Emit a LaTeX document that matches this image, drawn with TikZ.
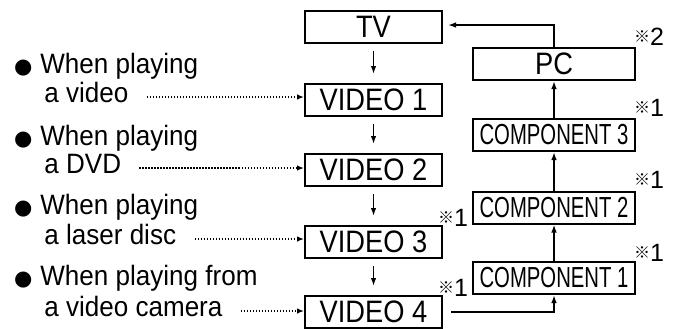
\documentclass[tikz,border=0pt]{standalone}
\usepackage{fontspec}
\setmainfont{Liberation Sans}
\newfontfamily\lblfont[FakeStretch=0.93]{Liberation Sans}
\newfontfamily\boxfont[FakeStretch=0.88]{Liberation Sans}
\newfontfamily\compfont[FakeStretch=0.70]{Liberation Sans}
\newfontfamily\symfont{DejaVu Sans}
\newfontfamily\cjkfont{Noto Sans CJK JP}
\usetikzlibrary{arrows.meta,positioning}
\newcommand{\bulletmk}{{\symfont\fontsize{10.5}{11}\selectfont ●}}
\newcommand{\refmk}[1]{\raisebox{1.5pt}{\cjkfont\fontsize{8}{8}\selectfont ※}#1}

\begin{document}
\begin{tikzpicture}[x=0.5pt, y=-0.5pt,
  unit/.style={draw, line width=1pt, inner sep=0pt, minimum width=68.5pt,
               minimum height=16pt, font=\boxfont\fontsize{15.5}{16}\selectfont},
  comp/.style={draw, line width=1pt, inner sep=0pt, minimum width=81pt,
               minimum height=16pt, font=\compfont\fontsize{14.5}{15}\selectfont},
  lbl/.style={anchor=west, inner sep=0pt, text height=0.72em, text depth=0.21em,
              font=\lblfont\fontsize{14}{15}\selectfont},
  note/.style={inner sep=0pt, font=\fontsize{12.5}{13}\selectfont},
  flow/.style={-{Latex[length=4pt,width=2.8pt]}, line width=0.8pt},
  feed/.style={-{Latex[length=3.5pt,width=2.8pt]}, line width=0.7pt,
               dash pattern=on 0.7pt off 0.8pt},
]
  \useasboundingbox (0,0) rectangle (673,328);

  % left column: TV and the video inputs
  \node[unit] (tv)   at (373.5,26.5) {TV};
  \node[unit] (vid1) at (373.5,100)  {VIDEO 1};
  \node[unit] (vid2) at (373.5,170)  {VIDEO 2};
  \node[unit] (vid3) at (373.5,242)  {VIDEO 3};
  \node[unit] (vid4) at (373.5,312)  {VIDEO 4};

  % right column: component inputs and PC
  \node[unit, minimum width=81pt] (pc) at (554,64) {PC};
  \node[comp] (comp3) at (554,135)   {COMPONENT 3};
  \node[comp] (comp2) at (554,207.5) {COMPONENT 2};
  \node[comp] (comp1) at (554,278)   {COMPONENT 1};

  % remarks
  \node[note] (n2)  at (649,37)  {\refmk{2}};
  \node[note] (n3)  at (649,108) {\refmk{1}};
  \node[note] (n4)  at (649,180) {\refmk{1}};
  \node[note] (n5)  at (649,253) {\refmk{1}};
  \node[note] (n6)  at (453,218) {\refmk{1}};
  \node[note] (n7)  at (453,288) {\refmk{1}};

  % playing cases
  \node[lbl] (txt1a) at (40,68)  {\llap{\bulletmk\hspace{4pt}}When playing};
  \node[lbl] (txt1b) at (44,97)  {a video};
  \node[lbl] (txt2a) at (40,140) {\llap{\bulletmk\hspace{4pt}}When playing};
  \node[lbl] (txt2b) at (44,168) {a DVD};
  \node[lbl] (txt3a) at (40,209) {\llap{\bulletmk\hspace{4pt}}When playing};
  \node[lbl] (txt3b) at (44,239) {a laser disc};
  \node[lbl] (txt4a) at (40,280) {\llap{\bulletmk\hspace{4pt}}When playing from};
  \node[lbl] (txt4b) at (44,311) {a video camera};

  % search order down the video inputs
  \draw[flow, shorten <=3.5pt, shorten >=4.5pt] (tv.south)   -- (vid1.north);
  \draw[flow, shorten <=3.5pt, shorten >=4.5pt] (vid1.south) -- (vid2.north);
  \draw[flow, shorten <=3.5pt, shorten >=4.5pt] (vid2.south) -- (vid3.north);
  \draw[flow, shorten <=3.5pt, shorten >=4.5pt] (vid3.south) -- (vid4.north);

  % and back up through the component inputs
  \draw[flow, shorten <=4pt] (vid4.east) -| (comp1.south);
  \draw[flow] (comp1.north) -- (comp2.south);
  \draw[flow] (comp2.north) -- (comp3.south);
  \draw[flow] (comp3.north) -- (pc.south);
  \draw[flow, shorten >=2.5pt] (pc.north) |- ([yshift=0.75pt]tv.east);

  % dotted pointers
  \draw[feed, shorten <=9pt] (txt1b.east) -- (txt1b.east -| vid1.west);
  \draw[feed, shorten <=9pt] (txt2b.east) -- (txt2b.east -| vid2.west);
  \draw[feed, shorten <=9pt] (txt3b.east) -- (txt3b.east -| vid3.west);
  \draw[feed, shorten <=9pt] (txt4b.east) -- (txt4b.east -| vid4.west);
\end{tikzpicture}
\end{document}
